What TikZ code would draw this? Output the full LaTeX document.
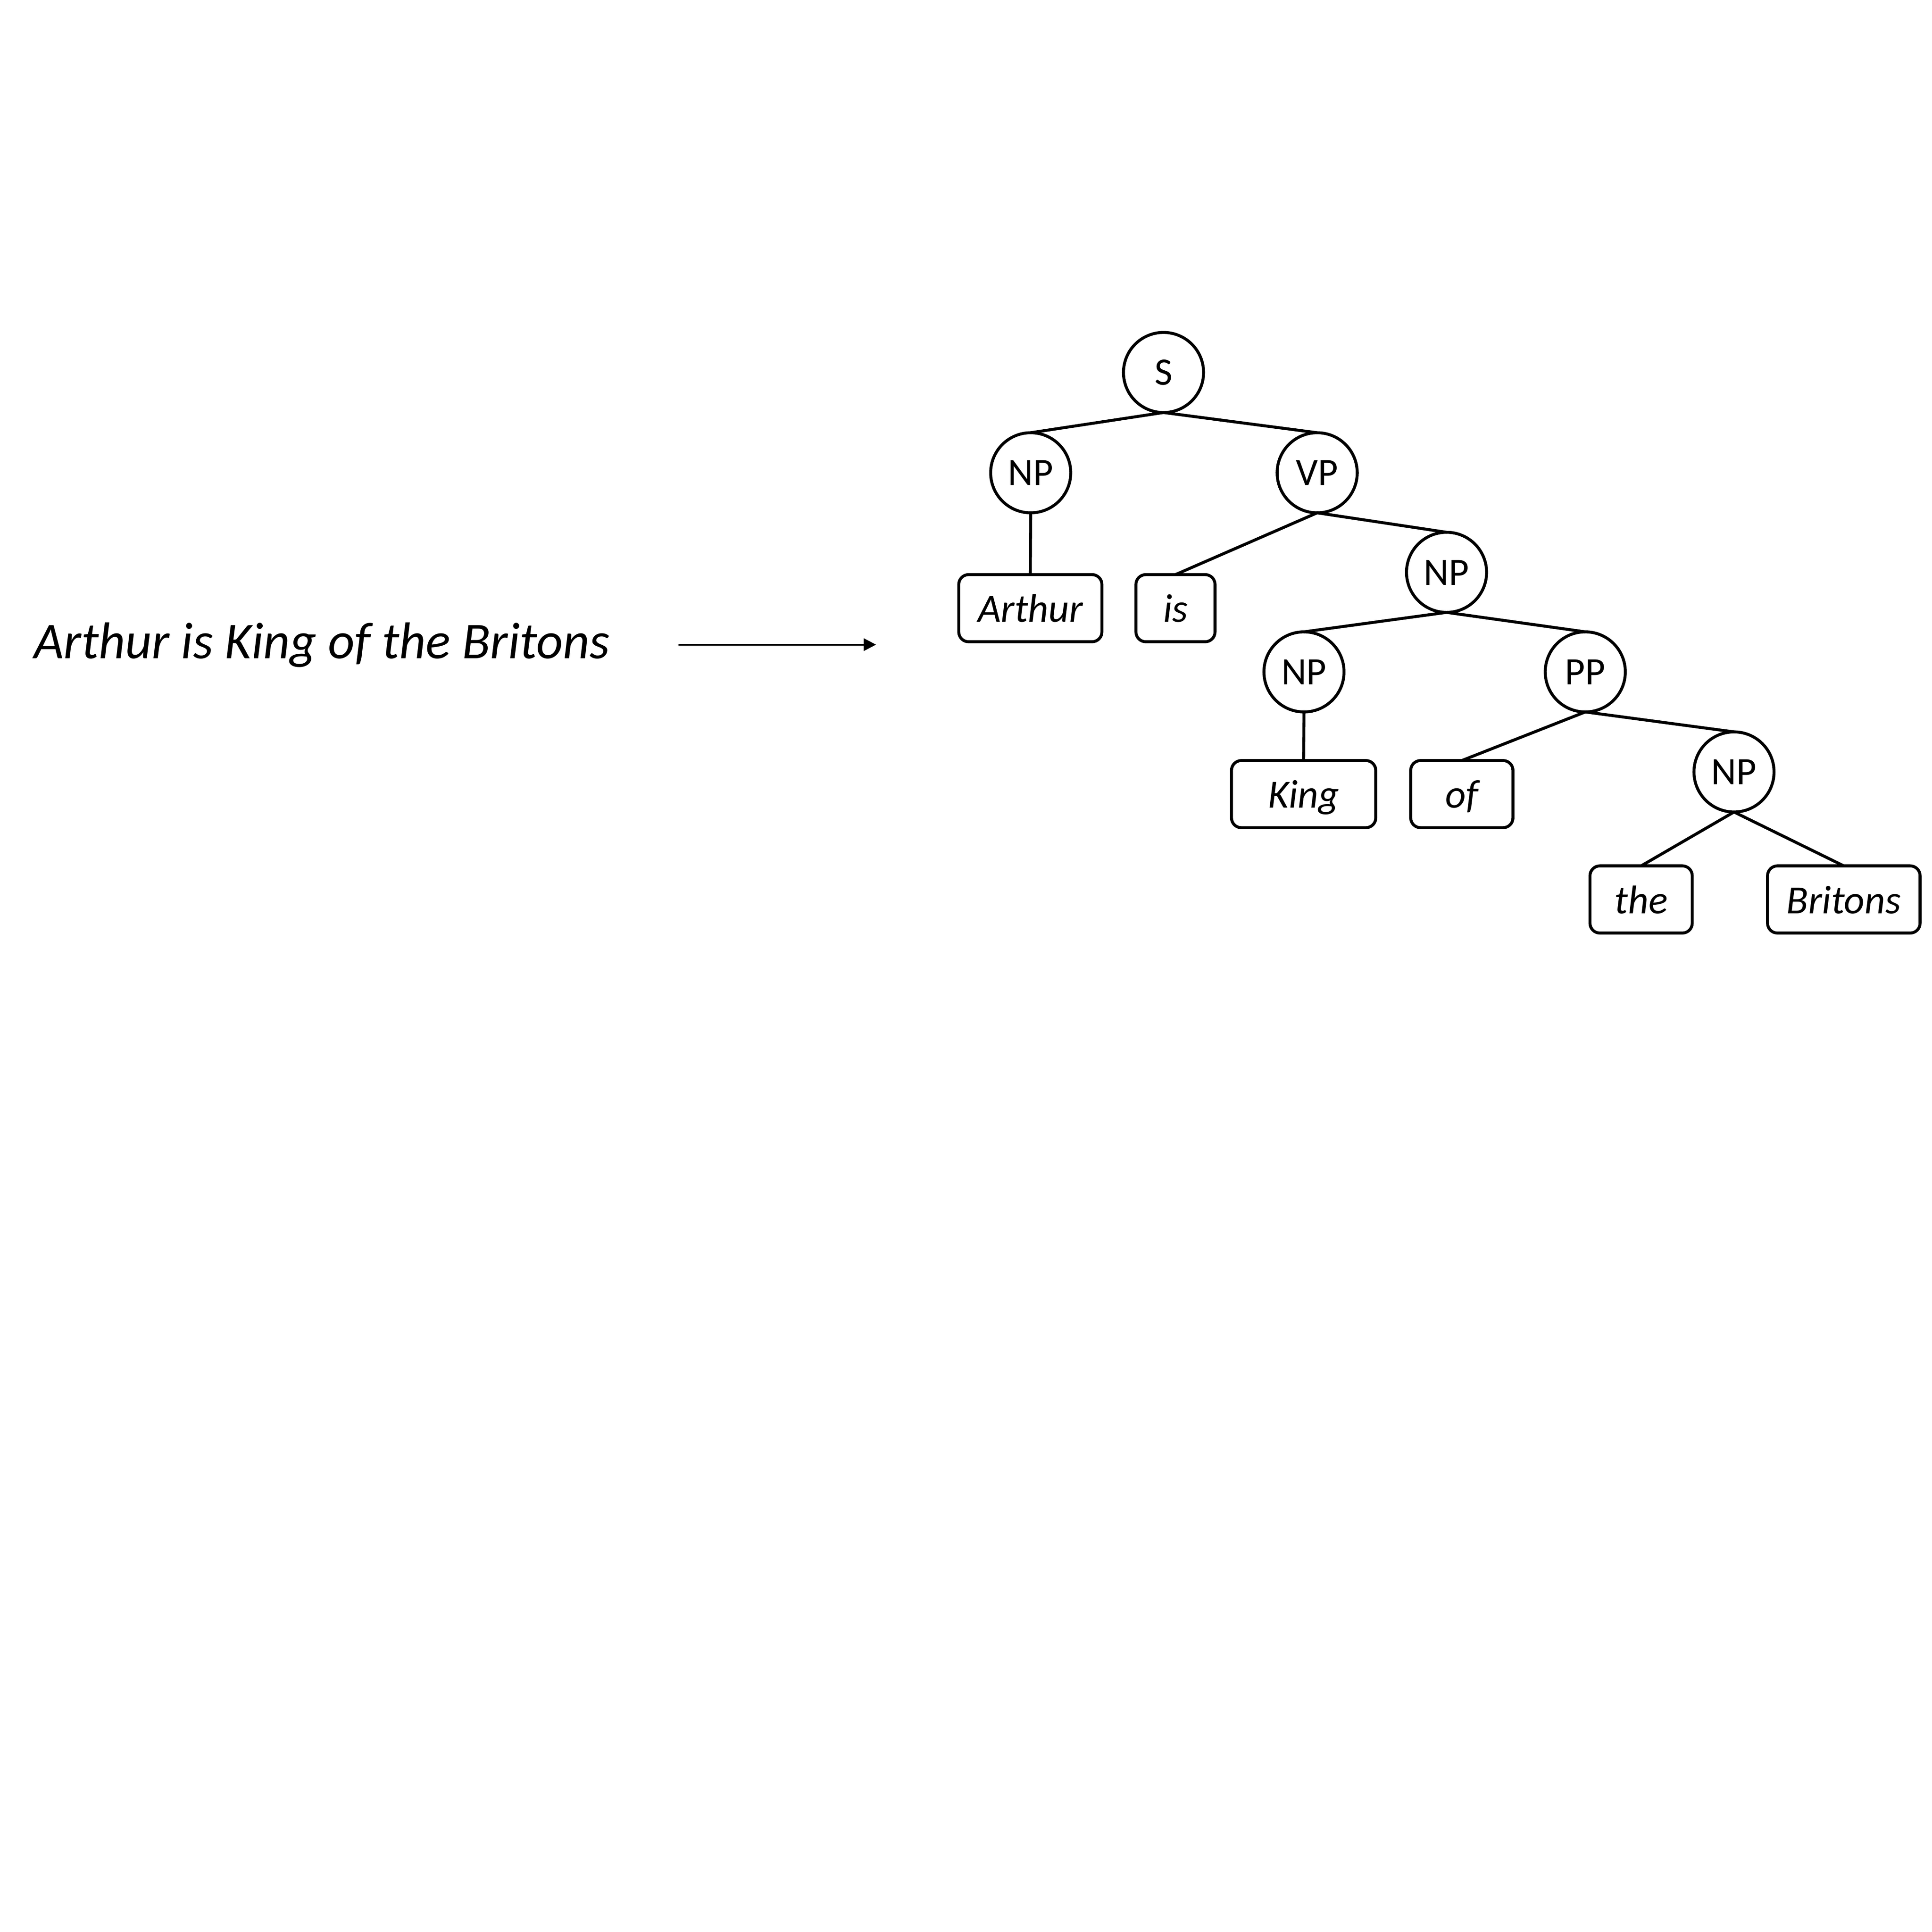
\documentclass[tikz,border=0pt]{standalone}
\usepackage{fontspec}
\setmainfont{Carlito}
\usetikzlibrary{arrows.meta}
\tikzset{
  cat/.style={circle, draw, line width=2.4pt, minimum size=65pt, inner sep=0pt, outer sep=0pt,
    font=\fontsize{31.5pt}{36pt}\selectfont, text height=20.5pt, text depth=0pt},
  word/.style={rectangle, rounded corners=8pt, draw, line width=2.4pt, minimum height=54.5pt,
    inner sep=0pt, outer sep=0pt, font=\fontsize{32.5pt}{38pt}\selectfont\itshape,
    text height=22.6pt, text depth=0pt},
  edge/.style={line width=2.4pt},
  sent/.style={font=\fontsize{41.9pt}{48pt}\selectfont\itshape, inner sep=0pt, anchor=base west}
}
\begin{document}
\begin{tikzpicture}[x=1pt,y=-1pt]
\useasboundingbox (0,0) rectangle (1568,1568);
\node[sent] (sentence) at (27.3,534.4) {Arthur is King of the Britons};
\coordinate (a0) at (550.6,523.2);
\coordinate (a1) at (711,523.2);
\draw[line width=1.5pt, -{Triangle[length=10pt,width=10pt]}] (a0) -- (a1);

\node[cat] (S) at (944.3,302.3) {S};
\node[cat] (NP1) at (836.5,383.7) {NP};
\node[cat] (VP) at (1069,383.7) {VP};
\node[cat] (NP2) at (1174,464.5) {NP};
\node[cat] (NP3) at (1058.3,545.3) {NP};
\node[cat] (PP) at (1286.6,545.3) {PP};
\node[cat] (NP4) at (1407.3,626.5) {NP};

\node[word, minimum width=116.2pt] (Arthur) at (836.2,493.6) {Arthur};
\node[word, minimum width=64.2pt] (is) at (954,493.6) {is};
\node[word, minimum width=117.1pt] (King) at (1058,644.5) {King};
\node[word, minimum width=83pt] (of) at (1186.4,644.5) {of};
\node[word, minimum width=83pt] (the) at (1331.9,730) {the};
\node[word, minimum width=123.8pt] (Britons) at (1496.4,730) {Britons};

\draw[edge] (S.south) -- (NP1.north);
\draw[edge] (S.south) -- (VP.north);
\draw[edge] (NP1.south) -- (Arthur.north);
\draw[edge] (VP.south) -- (is.north);
\draw[edge] (VP.south) -- (NP2.north);
\draw[edge] (NP2.south) -- (NP3.north);
\draw[edge] (NP2.south) -- (PP.north);
\draw[edge] (NP3.south) -- (King.north);
\draw[edge] (PP.south) -- (of.north);
\draw[edge] (PP.south) -- (NP4.north);
\draw[edge] (NP4.south) -- (the.north);
\draw[edge] (NP4.south) -- (Britons.north);
\end{tikzpicture}
\end{document}
